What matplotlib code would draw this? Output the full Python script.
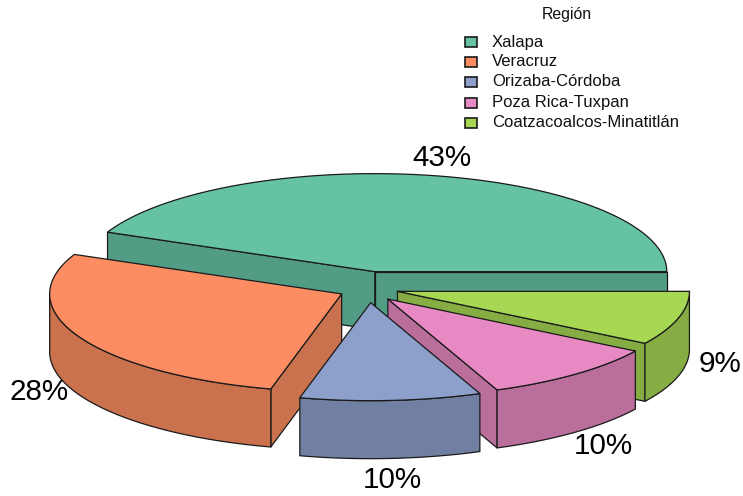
"""Exploded 3D pie of shares by region, drawn as plain polygons in pixel coordinates."""
import matplotlib
matplotlib.use("Agg")
import matplotlib.pyplot as plt
from matplotlib.patches import Polygon, Rectangle
import numpy as np

regions = ["Xalapa", "Veracruz", "Orizaba-Córdoba", "Poza Rica-Tuxpan",
           "Coatzacoalcos-Minatitlán"]
shares = [43.4, 27.7, 10.0, 10.0, 8.9]
top_colors = ["#66C2A5", "#FC8D62", "#8DA0CB", "#E78AC3", "#A6D854"]
wall_colors = ["#529B84", "#CA714E", "#7180A2", "#B96E9C", "#85AD43"]

# pie geometry, in reference pixels
CX, CY = 368.6, 287.0
RX, RY = 292.0, 98.0
EX, EY = 30.0, 15.7
DEPTH = 58.0
LABEL_XY = [(441.5, 158.5), (39, 391.5), (392, 480.5), (603, 445.5), (720, 363.5)]
DRAW_ORDER = [0, 4, 3, 1, 2]

plt.rcParams["font.family"] = ["Liberation Sans", "DejaVu Sans"]

fig = plt.figure(figsize=(7.43, 4.96), dpi=100)
ax = fig.add_axes([0, 0, 1, 1])
ax.set_xlim(0, 743)
ax.set_ylim(496, 0)
ax.axis("off")


def ell(x0, y0, deg):
    t = np.radians(deg)
    return np.column_stack([x0 + RX * np.cos(t), y0 - RY * np.sin(t)])


def poly(pts, color, z):
    ax.add_patch(Polygon(pts, closed=True, facecolor=color, edgecolor="#1a1a1a",
                         linewidth=0.9, joinstyle="round", zorder=z))


def cut_wall(x0, y0, deg, color, z):
    p = ell(x0, y0, np.array([deg]))[0]
    poly([(x0, y0), p, (p[0], p[1] + DEPTH), (x0, y0 + DEPTH)], color, z)


edges = np.cumsum([0] + shares) / sum(shares) * 360.0

for z, i in enumerate(DRAW_ORDER):
    a0, a1 = edges[i], edges[i + 1]
    mid = np.radians((a0 + a1) / 2)
    x0 = CX + EX * np.cos(mid)
    y0 = CY - EY * np.sin(mid)
    base = z * 10 + 2

    # cut faces that look toward the viewer
    if a0 < 90 or a0 > 285:
        cut_wall(x0, y0, a0, wall_colors[i], base)
    if 90 < a1 < 270:
        cut_wall(x0, y0, a1, wall_colors[i], base)

    # front rim
    lo, hi = max(a0, 180.0), min(a1, 360.0)
    if hi > lo:
        arc = ell(x0, y0, np.linspace(lo, hi, 80))
        rim = np.vstack([arc, (arc + [0, DEPTH])[::-1]])
        poly(rim, wall_colors[i], base + 1)

    # top face
    arc = ell(x0, y0, np.linspace(a0, a1, 160))
    poly(np.vstack([[(x0, y0)], arc]), top_colors[i], base + 2)

    ax.text(*LABEL_XY[i], f"{shares[i]:.0f}%", ha="center", va="center",
            fontsize=21.3, color="black", zorder=100)

# legend
ax.text(567, 14.5, "Región", ha="center", va="center", fontsize=11.4, color="#111111")
key_y = [42, 62, 82, 102.5, 122.5]
for name, col, y in zip(regions, top_colors, key_y):
    ax.add_patch(Rectangle((465, y - 5), 12, 10, facecolor=col, edgecolor="#1a1a1a",
                           linewidth=1.2, zorder=100))
    ax.text(492, y, name, ha="left", va="center", fontsize=11.95, color="#111111")

fig.savefig("out.png", dpi=100)
